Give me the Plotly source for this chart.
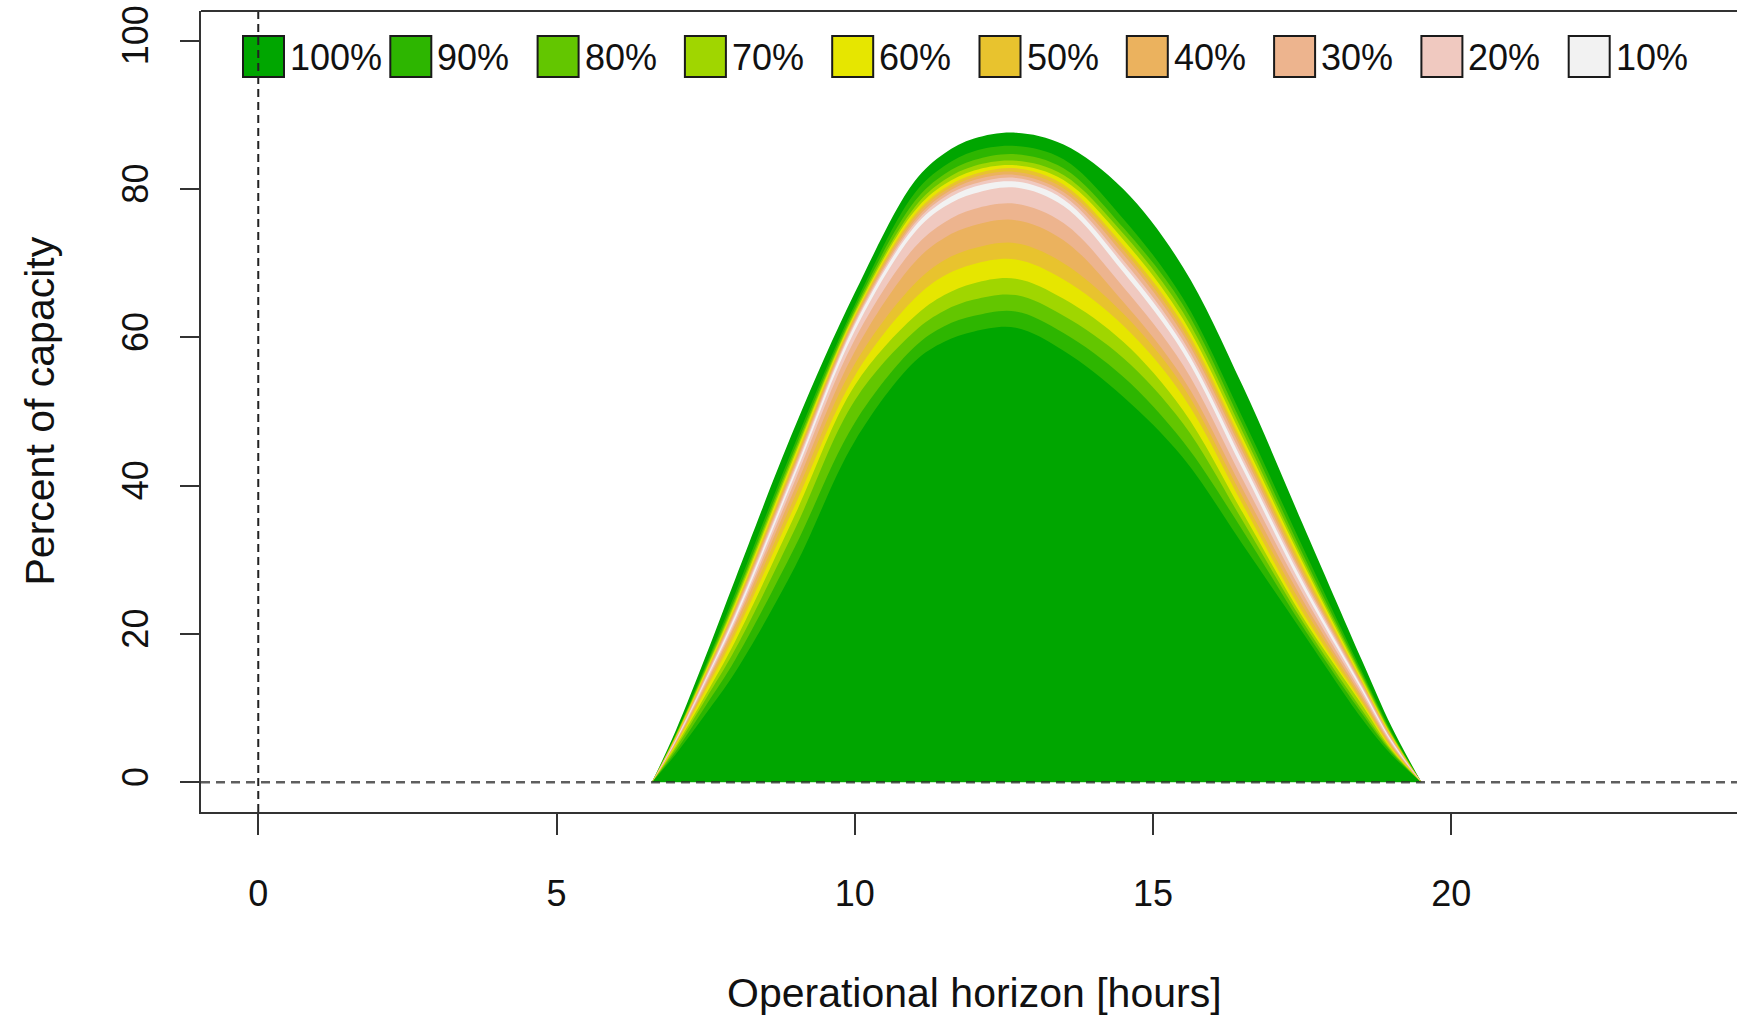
import plotly.graph_objects as go

# ---------------- data ----------------
hours = [6.6, 7.0, 7.5, 8.0, 9.0, 10.0, 11.0, 11.5, 12.0, 12.7, 13.5, 14.5, 15.5, 16.5, 17.5, 18.5, 19.0, 19.5]

q100 = [0, 7.0, 17.0, 27.5, 48.0, 66.0, 81.0, 84.8, 86.8, 87.6, 86.0, 80.0, 69.5, 53.5, 35.0, 16.5, 7.5, 0]
q95 = [0, 6.5, 15.8, 25.6, 45.8, 64.4, 79.4, 83.1, 85.1, 85.8, 84.0, 76.0, 65.3, 49.2, 31.9, 15.0, 6.8, 0]
q90 = [0, 6.4, 15.5, 25.0, 45.1, 63.9, 78.3, 82.0, 83.9, 84.7, 82.8, 74.8, 64.4, 48.2, 31.0, 14.6, 6.6, 0]
q85 = [0, 6.3, 15.2, 24.6, 44.6, 63.5, 77.5, 81.2, 83.1, 83.8, 81.9, 74.0, 63.4, 47.3, 30.3, 14.3, 6.4, 0]
q80 = [0, 6.2, 15.0, 24.2, 44.2, 63.2, 77.0, 80.6, 82.5, 83.2, 81.2, 73.2, 62.5, 46.5, 29.8, 14.0, 6.3, 0]
q75 = [0, 6.1, 14.7, 23.8, 43.7, 62.9, 76.5, 80.1, 82.0, 82.8, 80.6, 72.4, 61.8, 45.8, 29.2, 13.7, 6.1, 0]
q70 = [0, 6.0, 14.5, 23.5, 43.2, 62.6, 76.1, 79.7, 81.6, 82.3, 80.1, 71.8, 61.0, 45.2, 28.6, 13.5, 6.0, 0]
q65 = [0, 5.9, 14.3, 23.2, 42.9, 62.3, 75.7, 79.3, 81.2, 81.9, 79.6, 71.2, 60.4, 44.6, 28.1, 13.3, 5.9, 0]
q60 = [0, 5.8, 14.1, 22.9, 42.5, 62.0, 75.3, 78.9, 80.7, 81.5, 79.1, 70.4, 59.6, 43.9, 27.7, 13.0, 5.7, 0]
q55 = [0, 5.7, 13.9, 22.6, 42.1, 61.7, 74.9, 78.4, 80.3, 81.0, 78.6, 69.8, 59.0, 43.3, 27.2, 12.8, 5.6, 0]
q45 = [0, 5.6, 13.7, 22.1, 41.5, 60.9, 74.1, 77.6, 79.4, 80.2, 77.7, 68.8, 58.0, 42.3, 26.4, 12.4, 5.4, 0]
q40 = [0, 5.5, 13.4, 21.7, 40.7, 59.7, 72.1, 75.5, 77.3, 78.0, 75.4, 66.8, 56.3, 40.9, 25.6, 12.0, 5.2, 0]
q35 = [0, 5.4, 13.1, 21.3, 39.7, 58.1, 70.1, 73.4, 75.1, 75.8, 73.1, 64.8, 54.5, 39.6, 24.7, 11.6, 5.0, 0]
q30 = [0, 5.3, 12.8, 20.7, 38.6, 56.4, 67.2, 70.4, 72.0, 72.7, 70.0, 63.2, 53.4, 38.5, 23.9, 11.2, 4.8, 0]
q25 = [0, 5.1, 12.4, 20.0, 37.4, 54.8, 65.2, 68.3, 69.9, 70.5, 67.8, 61.6, 52.1, 37.5, 23.0, 10.8, 4.6, 0]
q20 = [0, 4.9, 11.8, 19.1, 36.1, 53.5, 62.8, 65.7, 67.3, 67.9, 65.2, 59.4, 50.2, 36.4, 22.4, 10.5, 4.4, 0]
q15 = [0, 4.6, 11.2, 18.0, 34.2, 51.5, 60.8, 63.6, 65.1, 65.7, 62.9, 57.2, 48.4, 35.3, 21.8, 9.8, 4.2, 0]
q10 = [0, 4.2, 10.3, 16.6, 31.8, 48.5, 58.7, 61.5, 62.9, 63.5, 60.6, 54.7, 46.0, 34.0, 21.1, 9.3, 4.0, 0]
q05 = [0, 3.8, 9.2, 14.9, 29.1, 46.0, 56.7, 59.4, 60.8, 61.3, 58.2, 52.0, 43.8, 32.1, 20.3, 8.6, 3.7, 0]

band_labels = ["100%", "90%", "80%", "70%", "60%", "50%", "40%", "30%", "20%", "10%"]
band_colors = ["#00A600", "#2DB600", "#63C600", "#A0D600", "#E6E600",
               "#E8C32E", "#EBB25E", "#EDB48E", "#F0C9C0", "#F2F2F2"]
band_lower = [None, q05, q10, q15, q20, q25, q30, q35, q40, q45]
band_upper = [q100, q95, q90, q85, q80, q75, q70, q65, q60, q55]

x_ticks = [0, 5, 10, 15, 20]
y_ticks = [0, 20, 40, 60, 80, 100]
x_title = "Operational horizon [hours]"
y_title = "Percent of capacity"

# ---------------- layout geometry ----------------
W, H = 1737, 1015
ML, MT, MB, MR = 201, 11, 203, 0
PW, PH = W - ML - MR, H - MT - MB
XR = [-0.96, 24.79]
YR = [-4, 104]
FONT = "Liberation Sans, Arial, Helvetica, sans-serif"
TXT = "#111111"


def px2x(px):
    return XR[0] + (px - ML) / PW * (XR[1] - XR[0])


def px2y(py):
    return YR[1] - (py - MT) / PH * (YR[1] - YR[0])


fig = go.Figure()

for lab, col, lo, up in zip(band_labels, band_colors, band_lower, band_upper):
    if lo is None:
        fig.add_trace(go.Scatter(x=hours, y=up, mode="lines", line=dict(width=0, shape="spline", color=col),
                                 fill="tozeroy", fillcolor=col, showlegend=False, hoverinfo="skip", name=lab))
    else:
        fig.add_trace(go.Scatter(x=hours, y=lo, mode="lines", line=dict(width=0, shape="spline", color=col),
                                 showlegend=False, hoverinfo="skip"))
        fig.add_trace(go.Scatter(x=hours, y=up, mode="lines", line=dict(width=0, shape="spline", color=col),
                                 fill="tonexty", fillcolor=col, showlegend=False, hoverinfo="skip", name=lab))

shapes = []
annotations = []

# legend (R style, horizontal row of boxes)
LEG_X0, LEG_STEP, LEG_BOX, LEG_Y0, LEG_Y1 = 243, 147.3, 41, 36, 77
for i, (lab, col) in enumerate(zip(band_labels, band_colors)):
    bx0 = LEG_X0 + i * LEG_STEP
    shapes.append(dict(type="rect", xref="x", yref="y",
                       x0=px2x(bx0), x1=px2x(bx0 + LEG_BOX), y0=px2y(LEG_Y1), y1=px2y(LEG_Y0),
                       fillcolor=col, line=dict(color="#1a1a1a", width=2), layer="above"))
    annotations.append(dict(xref="x", yref="y", x=px2x(bx0 + LEG_BOX + 4), y=px2y((LEG_Y0 + LEG_Y1) / 2 + 1),
                            text=lab, showarrow=False, xanchor="left", yanchor="middle",
                            font=dict(family=FONT, size=36, color=TXT)))

# dashed reference lines
shapes.append(dict(type="line", xref="paper", yref="y", x0=0, x1=1, y0=0, y1=0,
                   line=dict(color="rgba(40,40,40,0.75)", width=2.5, dash="9px,6px"), layer="above"))
shapes.append(dict(type="line", xref="x", yref="paper", x0=0, x1=0, y0=0, y1=1,
                   line=dict(color="#222222", width=2, dash="8px,5px"), layer="above"))
# top border of the box
shapes.append(dict(type="line", xref="paper", yref="paper", x0=0, x1=1, y0=1, y1=1,
                   line=dict(color="#333333", width=2), layer="above"))

# axis titles
annotations.append(dict(xref="paper", yref="paper", x=(974 - ML) / PW, y=(MT + PH - 993) / PH,
                        text=x_title, showarrow=False, xanchor="center", yanchor="middle",
                        font=dict(family=FONT, size=41, color=TXT)))
annotations.append(dict(xref="paper", yref="paper", x=(39 - ML) / PW, y=0.5,
                        text=y_title, showarrow=False, xanchor="center", yanchor="middle", textangle=-90,
                        font=dict(family=FONT, size=41, color=TXT)))

fig.update_layout(
    width=W, height=H,
    margin=dict(l=ML, r=MR, t=MT, b=MB, pad=0),
    paper_bgcolor="white", plot_bgcolor="white",
    showlegend=False,
    shapes=shapes, annotations=annotations,
    xaxis=dict(range=XR, tickmode="array", tickvals=x_ticks, ticktext=[str(v) for v in x_ticks],
               showgrid=False, zeroline=False, showline=True, linecolor="#333333", linewidth=2,
               ticks="outside", ticklen=21, tickwidth=2, tickcolor="#333333",
               tickfont=dict(family=FONT, size=36, color=TXT), ticklabelstandoff=28),
    yaxis=dict(range=YR, tickmode="array", tickvals=y_ticks, ticktext=[str(v) for v in y_ticks],
               showgrid=False, zeroline=False, showline=True, linecolor="#333333", linewidth=2,
               ticks="outside", ticklen=19, tickwidth=2, tickcolor="#333333", tickangle=-90,
               tickfont=dict(family=FONT, size=36, color=TXT), ticklabelstandoff=18),
)

fig.write_html("out.html", config={"displayModeBar": False},
               post_script="document.body.style.margin='0';document.body.style.overflow='hidden';")
